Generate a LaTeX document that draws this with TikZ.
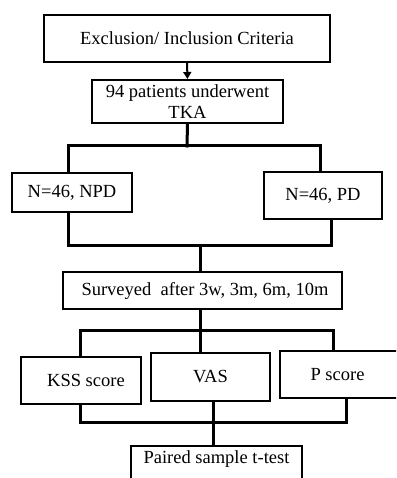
\documentclass[tikz,border=0pt]{standalone}
\usepackage{fontspec}
\setmainfont{Liberation Serif}
\usetikzlibrary{arrows.meta}
\begin{document}
\begin{tikzpicture}[x=1pt,y=-1pt,
  box/.style={draw, line width=2pt, inner sep=0pt, align=center,
    font=\fontsize{18.5}{21}\selectfont},
  conn/.style={line width=3pt, line cap=rect}]
\clip (0,0) rectangle (396,478);
\fill[white] (0,0) rectangle (396,478);
% boxes
\node[box, minimum width=286pt, minimum height=47pt] (ex) at (187,38.5) {Exclusion/ Inclusion Criteria};
\node[box, minimum width=191pt, minimum height=43pt] (tka) at (187.5,101.5) {94 patients underwent\\TKA};
\node[box, minimum width=120pt, minimum height=39pt] (npd) at (72,192.5) {N=46, NPD};
\node[box, minimum width=118pt, minimum height=47pt] (pd) at (323,195.5) {N=46, PD};
\node[box, minimum width=279pt, minimum height=37pt] (sur) at (202,290.5) {\hspace{6pt}Surveyed\ \ after 3w, 3m, 6m, 10m};
\node[box, minimum width=120pt, minimum height=47pt] (kss) at (81,380.5) {\hspace{10pt}KSS\ score};
\node[box, minimum width=119pt, minimum height=48pt] (vas) at (210.5,377) {VAS};
\node[box, minimum width=120pt, minimum height=47pt] (ps) at (340,374.5) {P score\hspace{5pt}};
\node[box, minimum width=171pt, minimum height=40pt, text height=15.5pt, text depth=20pt] (pt) at (216.5,466) {Paired sample t-test};
% junction coordinates
\coordinate (j1) at (187,146);
\coordinate (j1l) at (68,146);
\coordinate (j1r) at (320,146);
\coordinate (j2) at (200,245);
\coordinate (j2l) at (68,245);
\coordinate (j2r) at (331,245);
\coordinate (j3) at (200,330);
\coordinate (j3l) at (80,330);
\coordinate (j3r) at (333,330);
\coordinate (j4) at (213,422);
\coordinate (j4l) at (80,422);
\coordinate (j4r) at (346,422);
% connectors
\draw[line width=2pt, -{Triangle[width=8pt,length=7pt]}] (ex.south) -- (tka.north);
\draw[conn] (tka.south) -- (j1);
\draw[conn] (j1l |- npd.north) -- (j1l) -- (j1r) -- (j1r |- pd.north);
\draw[conn] (npd.south -| j2l) -- (j2l) -- (j2r) -- (pd.south -| j2r);
\draw[conn] (j2) -- (j2 |- sur.north);
\draw[conn] (sur.south -| j3) -- (j3 |- vas.north);
\draw[conn] (j3l |- kss.north) -- (j3l) -- (j3r) -- (j3r |- ps.north);
\draw[conn] (kss.south -| j4l) -- (j4l) -- (j4r) -- (ps.south -| j4r);
\draw[conn] (vas.south -| j4) -- (j4 |- pt.north);
\end{tikzpicture}
\end{document}
